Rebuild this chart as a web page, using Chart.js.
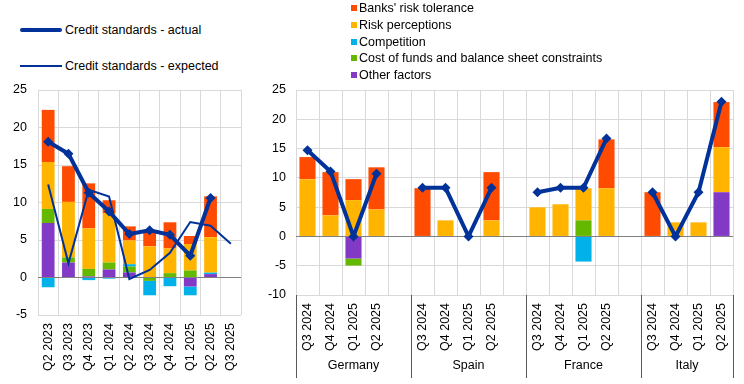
<!DOCTYPE html>
<html><head><meta charset="utf-8">
<script src="https://cdn.jsdelivr.net/npm/chart.js@4/dist/chart.umd.min.js"></script>
<style>
html,body{margin:0;padding:0;background:#fff;}
body{width:744px;height:384px;position:relative;overflow:hidden;font-family:"Liberation Sans",Arial,sans-serif;font-size:12.5px;color:#000;}
canvas{position:absolute;display:block;}
.lg{position:absolute;white-space:nowrap;line-height:14px;}
.sq{position:absolute;width:6px;height:6px;}
.ln{position:absolute;background:#003299;}
</style></head><body>
<canvas id="left" width="250" height="304" style="left:0;top:80px"></canvas>
<canvas id="right" width="489" height="304" style="left:255px;top:80px"></canvas>

<div class="ln" style="left:20px;top:28px;width:42px;height:4px;border-radius:2px"></div>
<div class="lg" style="left:65px;top:23px">Credit standards - actual</div>
<div class="ln" style="left:20px;top:65px;width:42px;height:2px"></div>
<div class="lg" style="left:65px;top:59px">Credit standards - expected</div>

<div id="rlegend"></div>

<script>
// ---------- Euro area panel data ----------
const euroQuarters = ['Q2 2023','Q3 2023','Q4 2023','Q1 2024','Q2 2024','Q3 2024','Q4 2024','Q1 2025','Q2 2025','Q3 2025'];
const euroRiskTolerance   = [6.95, 4.76, 6.0, 1.7, 1.88, 1.95, 3.48, 1.07, 5.44, null];
const euroRiskPerceptions = [6.26, 7.4, 5.4, 6.6, 3.17, 4.15, 3.3, 3.52, 4.73, null];
const euroCompetition     = [-1.3, 0, -0.35, -0.15, 0.3, -1.92, -1.16, -1.17, 0.2, null];
const euroCostOfFunds     = [1.87, 0.68, 1.0, 0.93, 0.8, -0.45, 0.58, 0.94, 0, null];
const euroOtherFactors    = [7.27, 2.0, 0.15, 1.07, 0.67, 0, 0, -1.2, 0.45, null];
const euroActual   = [18.1, 16.5, 11.3, 8.8, 5.8, 6.3, 5.7, 2.9, 10.6, null];
const euroExpected = [12.4, 1.9, 11.7, 10.8, -0.2, 1.0, 3.3, 7.4, 6.9, 4.5];

// ---------- Country panel data (Germany, Spain, France, Italy; each Q3 2024..Q2 2025) ----------
const countries = ['Germany','Spain','France','Italy'];
const countryQuarters = ['Q3 2024','Q4 2024','Q1 2025','Q2 2025'];
const ctyRiskTolerance   = [3.77, 7.38, 3.58, 7.2,   8.24, 0, 0, 8.24,   0, 0, 0, 8.34,   7.55, 0, 0, 7.7];
const ctyRiskPerceptions = [9.78, 3.6, 6.2, 4.6,     0, 2.74, 0, 2.74,   4.97, 5.49, 5.49, 8.23,   0, 2.4, 2.4, 7.69];
const ctyCompetition     = [0, 0, 0, 0,              0, 0, 0, 0,         0, 0, -4.29, 0,   0, 0, 0, 0];
const ctyCostOfFunds     = [0, 0, -1.2, 0,           0, 0, 0, 0,         0, 0, 2.74, 0,    0, 0, 0, 0];
const ctyOtherFactors    = [0, 0, -3.77, 0,          0, 0, 0, 0,         0, 0, 0, 0,       0, 0, 0, 7.55];
const ctyActual          = [14.7, 11.1, 0, 10.7,     8.3, 8.3, 0, 8.3,   7.55, 8.3, 8.3, 16.7,   7.55, 0, 7.55, 23.0];

const factorNames = ["Banks' risk tolerance","Risk perceptions","Competition","Cost of funds and balance sheet constraints","Other factors"];
const factorColors = ['#FF4B00','#FFB400','#00B1EA','#65B800','#8139C6'];
const lineNames = ['Credit standards - actual','Credit standards - expected'];
const BLUE = '#003299';

// legend (HTML)
const rl = document.getElementById('rlegend');
factorNames.forEach((n,i)=>{
  const cy = [7.5,25,41.7,58.3,74.5][i];
  const s = document.createElement('div'); s.className='sq';
  s.style.left='351px'; s.style.top=(cy-3)+'px'; s.style.background=factorColors[i];
  const t = document.createElement('div'); t.className='lg';
  t.style.left='359px'; t.style.top=(cy-7)+'px'; t.textContent=n;
  rl.appendChild(s); rl.appendChild(t);
});

Chart.defaults.font.family = '"Liberation Sans", Arial, sans-serif';
Chart.defaults.font.size = 12.5;
Chart.defaults.color = '#000';

// expand country data into slots with gaps
const nQ = countryQuarters.length;
function expand(arr){
  const out=[];
  countries.forEach((c,ci)=>{
    for(let q=0;q<nQ;q++) out.push(arr[ci*nQ+q]);
    if(ci<countries.length-1) out.push(null);
  });
  return out;
}
const ctyLabels=[];
countries.forEach((c,ci)=>{ countryQuarters.forEach(q=>ctyLabels.push(q)); if(ci<countries.length-1) ctyLabels.push(''); });

function barSets(tol, perc, comp, cost, other, pct){
  // stacking order bottom->top: other, cost, competition, perceptions, tolerance
  const vals=[other,cost,comp,perc,tol];
  const idx=[4,3,2,1,0];
  return vals.map((v,k)=>({type:'bar',label:factorNames[idx[k]],data:v,backgroundColor:factorColors[idx[k]],
    stack:'f',borderWidth:0,categoryPercentage:1,barPercentage:pct}));
}
const gridColor = c => (c.tick && c.tick.value===0) ? '#808080' : '#d9d9d9';

function makeOpts(yMin,yMax,yW,xH,padR,tickPad){
  return {
    responsive:false, animation:false, devicePixelRatio:1,
    layout:{autoPadding:false,padding:{top:10,right:padR,left:0,bottom:0}},
    plugins:{legend:{display:false},tooltip:{enabled:false}},
    scales:{
      x:{stacked:true,grid:{color:'#d9d9d9',offset:true,drawTicks:false},border:{display:false},
         ticks:{minRotation:90,maxRotation:90,autoSkip:false,padding:8},
         afterFit:s=>{s.height=xH; s.paddingLeft=0; s.paddingRight=0; s.paddingTop=0; s.paddingBottom=0;}},
      y:{stacked:true,min:yMin,max:yMax,grid:{color:gridColor,drawTicks:false},border:{display:false},
         ticks:{stepSize:5,padding:tickPad},
         afterFit:s=>{s.width=yW; s.paddingTop=0; s.paddingBottom=0; s.paddingLeft=0; s.paddingRight=0;}}
    }
  };
}

new Chart(document.getElementById('left'),{
  data:{labels:euroQuarters,datasets:[
    {type:'line',label:lineNames[0],data:euroActual,borderColor:BLUE,backgroundColor:BLUE,borderWidth:4,
     pointStyle:'rectRot',pointRadius:5,pointBorderWidth:0,stack:'a',tension:0,clip:false},
    {type:'line',label:lineNames[1],data:euroExpected,borderColor:BLUE,borderWidth:2,pointRadius:0,stack:'e',tension:0,clip:false},
    ...barSets(euroRiskTolerance,euroRiskPerceptions,euroCompetition,euroCostOfFunds,euroOtherFactors,0.63)
  ]},
  options:makeOpts(-5,25,38,69,9,11)
});

const groupPlugin={id:'groups',afterDraw(chart){
  const ctx=chart.ctx, xs=chart.scales.x, top=chart.chartArea.bottom;
  ctx.save();
  ctx.strokeStyle='#595959'; ctx.lineWidth=1;
  const edges=[];
  let start=0;
  countries.forEach((c,ci)=>{ edges.push(start); start+=nQ+1; });
  edges.push(ctyLabels.length);
  edges.forEach(e=>{
    const x=Math.round(xs.getPixelForValue(e-0.5))+0.5;
    ctx.beginPath(); ctx.moveTo(x,top); ctx.lineTo(x,298); ctx.stroke();
  });
  ctx.fillStyle='#000'; ctx.font='12.5px "Liberation Sans", Arial, sans-serif';
  ctx.textAlign='center'; ctx.textBaseline='middle';
  countries.forEach((c,ci)=>{
    const a=xs.getPixelForValue(edges[ci]-0.5), b=xs.getPixelForValue(edges[ci+1]-0.5);
    ctx.fillText(c,(a+b)/2,286);
  });
  ctx.restore();
}};

new Chart(document.getElementById('right'),{
  data:{labels:ctyLabels,datasets:[
    {type:'line',label:lineNames[0],data:expand(ctyActual),borderColor:BLUE,backgroundColor:BLUE,borderWidth:4,
     pointStyle:'rectRot',pointRadius:5,pointBorderWidth:0,stack:'a',tension:0,spanGaps:false,clip:false},
    ...barSets(expand(ctyRiskTolerance),expand(ctyRiskPerceptions),expand(ctyCompetition),expand(ctyCostOfFunds),expand(ctyOtherFactors),0.7)
  ]},
  options:makeOpts(-10,25,41,89,11,10),
  plugins:[groupPlugin]
});
</script>
</body></html>
